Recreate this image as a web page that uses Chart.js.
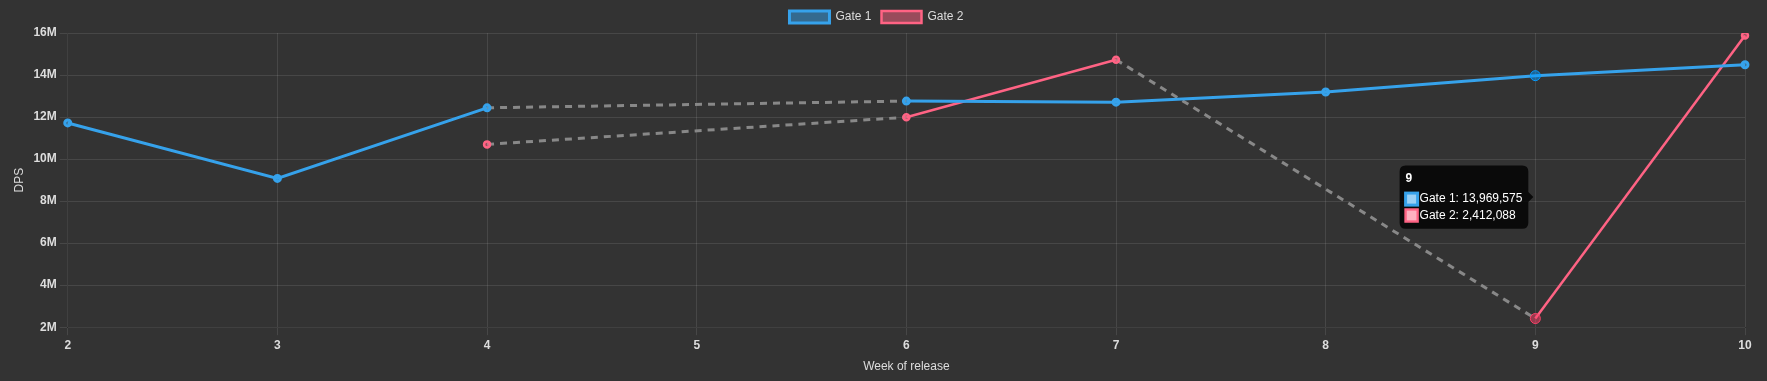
<!DOCTYPE html>
<html>
<head>
<meta charset="utf-8">
<script src="https://cdn.jsdelivr.net/npm/chart.js@4/dist/chart.umd.min.js"></script>
<style>
html,body{margin:0;padding:0;background:#333333;}
#wrap{width:1767px;height:381px;position:relative;}
</style>
</head>
<body>
<div id="wrap"><canvas id="c" width="1767" height="381"></canvas></div>
<script>
const weeks = ["2","3","4","5","6","7","8","9","10"];
const gate1 = [11720000, 9080000, 12440000, null, 12760000, 12710000, 13190000, 13969575, 14490000];
const gate2 = [null, null, 10700000, null, 11990000, 14730000, null, 2412088, 15880000];
const yTicks = [2000000, 16000000, 2000000];

Chart.defaults.color = '#dddddd';
Chart.defaults.font.family = '"Liberation Sans", Arial, sans-serif';
Chart.defaults.font.size = 12;

const gap = ctx => ctx.p0.skip || ctx.p1.skip;
const gapSeg = {
  borderColor: ctx => gap(ctx) ? 'rgb(136,136,136)' : undefined,
  borderDash: ctx => gap(ctx) ? [7, 6] : undefined,
  borderWidth: ctx => gap(ctx) ? 3 : undefined
};

const chart = new Chart(document.getElementById('c'), {
  type: 'line',
  data: {
    labels: weeks,
    datasets: [
      {label: 'Gate 1', data: gate1, borderColor: 'rgb(54,162,235)', backgroundColor: 'rgba(54,162,235,0.5)',
       borderWidth: 3, pointRadius: 3, pointHoverRadius: 5, spanGaps: true, segment: gapSeg},
      {label: 'Gate 2', data: gate2, borderColor: 'rgb(255,99,132)', backgroundColor: 'rgba(255,99,132,0.5)',
       borderWidth: 2.5, pointRadius: 3, pointHoverRadius: 5, spanGaps: true, segment: gapSeg}
    ]
  },
  options: {
    responsive: false,
    animation: false,
    interaction: {mode: 'index', intersect: false},
    layout: {padding: {left: 8, right: 22, top: 1, bottom: 3}},
    plugins: {
      legend: {labels: {color: '#dddddd', font: {size: 12}}},
      tooltip: {enabled: true}
    },
    scales: {
      x: {
        grid: {color: 'rgba(255,255,255,0.1)'},
        ticks: {color: '#dddddd', font: {weight: 'bold'}},
        title: {display: true, text: 'Week of release', color: '#dddddd'}
      },
      y: {
        min: yTicks[0], max: yTicks[1],
        grid: {color: 'rgba(255,255,255,0.1)'},
        ticks: {stepSize: yTicks[2], color: '#dddddd', font: {weight: 'bold'},
                callback: v => (v / 1000000) + 'M'},
        title: {display: true, text: 'DPS', color: '#dddddd'}
      }
    }
  }
});

const idx = weeks.indexOf("9");
const active = [{datasetIndex: 0, index: idx}, {datasetIndex: 1, index: idx}];
chart.setActiveElements(active);
const p = chart.getDatasetMeta(0).data[idx];
chart.tooltip.setActiveElements(active, {x: p.x, y: p.y});
chart.update();
</script>
</body>
</html>
